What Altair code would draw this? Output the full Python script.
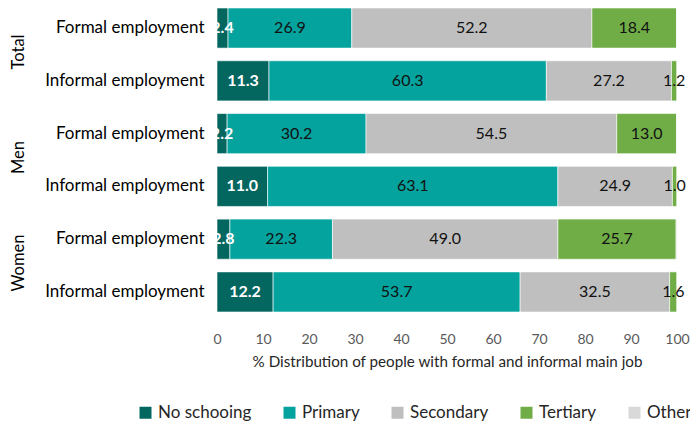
import altair as alt
import pandas as pd

groups = ["Total", "Total", "Men", "Men", "Women", "Women"]
jobs = ["Formal employment", "Informal employment"] * 3
no_schooling = [2.4, 11.3, 2.2, 11.0, 2.8, 12.2]
primary = [26.9, 60.3, 30.2, 63.1, 22.3, 53.7]
secondary = [52.2, 27.2, 54.5, 24.9, 49.0, 32.5]
tertiary = [18.4, 1.2, 13.0, 1.0, 25.7, 1.6]
other = [0.1, 0.0, 0.1, 0.0, 0.2, 0.0]

levels = ["No schooing", "Primary", "Secondary", "Tertiary", "Other"]
colors = ["#03665F", "#05A39E", "#BFBFBF", "#70AD47", "#D9D9D9"]
series = [no_schooling, primary, secondary, tertiary, other]

rows = []
for i in range(len(groups)):
    key = f"{groups[i]}|{jobs[i]}"
    start = 0.0
    for j, (lvl, vals) in enumerate(zip(levels, series)):
        v = vals[i]
        rows.append(dict(key=key, group=groups[i], job=jobs[i], level=lvl, order=j,
                         value=v, start=start, end=start + v, mid=start + v / 2,
                         label=f"{v:.1f}"))
        start += v
df = pd.DataFrame(rows)
row_order = [f"{g}|{j}" for g, j in zip(groups, jobs)]

FONT = "Lato"

yenc = alt.Y("key:N", sort=row_order,
             scale=alt.Scale(paddingInner=0.24, paddingOuter=0),
             axis=alt.Axis(title=None, labelExpr="split(datum.label,'|')[1]",
                           ticks=False, domain=False, labelPadding=13,
                           labelFontSize=17, labelColor="#000000", labelFont=FONT))

xscale = alt.Scale(domain=[0, 100], nice=False)

bars = alt.Chart(df).mark_bar(stroke="white", strokeWidth=0.6).encode(
    x=alt.X("start:Q", scale=xscale,
            axis=alt.Axis(values=list(range(0, 101, 10)),
                          title="% Distribution of people with formal and informal main job",
                          ticks=False, domain=False, grid=False, labelFlush=False,
                          labelFontSize=14, labelColor="#595959", labelFont=FONT,
                          labelPadding=20, titleFontSize=15.2, titleFontWeight="normal",
                          titleColor="#262626", titleFont=FONT, titlePadding=8)),
    x2="end:Q",
    y=yenc,
    color=alt.Color("level:N", sort=levels,
                    scale=alt.Scale(domain=levels, range=colors),
                    legend=alt.Legend(title=None, orient="none", direction="horizontal",
                                      legendX=-80, legendY=396, padding=0,
                                      symbolType="square",
                                      symbolSize=144, symbolStrokeWidth=0,
                                      labelFontSize=17, labelFont=FONT,
                                      labelColor="#262626", columnPadding=29,
                                      labelOffset=4)),
)

dark_txt = alt.Chart(df).transform_filter(alt.datum.level == "No schooing").mark_text(
    fontSize=16, font=FONT, fontWeight="bold", color="white", align="center", baseline="middle"
).encode(x=alt.X("mid:Q", scale=xscale), y=alt.Y("key:N", sort=row_order), text="label:N")

other_txt = alt.Chart(df).transform_filter(
    (alt.datum.level != "No schooing") & (alt.datum.level != "Other")
).mark_text(
    fontSize=16, font=FONT, color="#111111", align="center", baseline="middle"
).encode(x=alt.X("mid:Q", scale=xscale), y=alt.Y("key:N", sort=row_order), text="label:N")

group_df = pd.DataFrame({"group": ["Total", "Men", "Women"],
                         "key": [row_order[0], row_order[2], row_order[4]]})
group_txt = alt.Chart(group_df).mark_text(
    angle=270, fontSize=16.5, font=FONT, color="#000000", align="center", baseline="alphabetic"
).encode(y=alt.Y("key:N", sort=row_order), yOffset=alt.value(44),
         x=alt.value(-193), text="group:N")

chart = alt.layer(bars, dark_txt, other_txt, group_txt).properties(
    width=460, height=304,
    autosize=alt.AutoSizeParams(type="none"),
    padding={"left": 209, "top": 0, "right": 13, "bottom": 112},
).configure_view(stroke=None)

chart.save("out.html", embed_options={"renderer": "svg", "actions": False})
